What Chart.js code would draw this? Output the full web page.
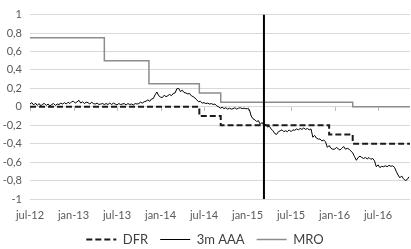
<!DOCTYPE html>
<html>
<head>
<meta charset="utf-8">
<script src="https://cdn.jsdelivr.net/npm/chart.js@4.4.0/dist/chart.umd.min.js"></script>
<style>
  html, body { margin: 0; padding: 0; background: #fff; }
</style>
</head>
<body>
<canvas id="rates" width="411" height="249"></canvas>
<script>
// ——— data (x = months since 1 jul 2012) ———
const xTickMonths = [0, 6, 12, 18, 24, 30, 36, 42, 48];
const xTickLabels = ['jul-12', 'jan-13', 'jul-13', 'jan-14', 'jul-14', 'jan-15', 'jul-15', 'jan-16', 'jul-16'];

// policy rates, value holds until the next change
const mroMonths = [0, 10.25, 16.4, 23.35, 26.3, 44.5, 52.4];
const mroRates  = [0.75, 0.5, 0.25, 0.15, 0.05, 0, 0];
const dfrMonths = [0, 23.35, 26.3, 41.25, 44.5, 52.4];
const dfrRates  = [0, -0.1, -0.2, -0.3, -0.4, -0.4];

// 3m AAA yield, roughly weekly (4 obs per month) from jul-12
const aaaStep = 0.25;
const aaaYield = [
  0.03, 0.045, 0.02, 0.04,   0.015, 0.035, 0.01, 0.03,   0.035, 0.015, 0.03, 0.01,
  0.025, 0.035, 0.015, 0.03, 0.025, 0.04, 0.03, 0.045,   0.03, 0.05, 0.035, 0.055,
  0.06, 0.04, 0.055, 0.07,   0.04, 0.055, 0.035, 0.05,   0.045, 0.03, 0.05, 0.035,
  0.03, 0.04, 0.025, 0.03,   0.035, 0.025, 0.035, 0.025, 0.04, 0.025, 0.04, 0.03,
  0.02, 0.035, 0.025, 0.03,  0.035, 0.02, 0.035, 0.025,  0.03, 0.02, 0.035, 0.03,
  0.035, 0.05, 0.04, 0.055,  0.06, 0.075, 0.06, 0.085,   0.09, 0.13, 0.16, 0.12,
  0.105, 0.10, 0.125, 0.11,  0.12, 0.135, 0.12, 0.145,   0.15, 0.195, 0.2, 0.165,
  0.18, 0.155, 0.15, 0.14,   0.145, 0.12, 0.11, 0.095,   0.075, 0.055, 0.06, 0.04,
  0.045, 0.035, 0.04, 0.03,  0.035, 0.025, 0.03, 0.01,   0.0, -0.015, -0.005, -0.02,
  -0.01, -0.025, -0.015, -0.025, -0.02, -0.01, -0.025, -0.015, -0.01, -0.02, -0.015, -0.02,
  -0.02, -0.03, -0.10, -0.13,  -0.14, -0.16, -0.15, -0.19,  -0.17, -0.20, -0.19, -0.22,
  -0.21, -0.24, -0.26, -0.29,  -0.30, -0.27, -0.26, -0.25,  -0.27, -0.26, -0.27, -0.25,
  -0.27, -0.25, -0.255, -0.24, -0.25, -0.235, -0.245, -0.23, -0.245, -0.235, -0.25, -0.24,
  -0.33, -0.31, -0.34, -0.35,  -0.35, -0.37, -0.36, -0.38,  -0.44, -0.42, -0.45, -0.46,
  -0.46, -0.44, -0.455, -0.47, -0.45, -0.43, -0.46, -0.45,  -0.46, -0.48, -0.50, -0.54,
  -0.58, -0.55, -0.535, -0.55, -0.56, -0.55, -0.565, -0.55, -0.57, -0.56, -0.585, -0.65,
  -0.63, -0.66, -0.645, -0.65, -0.64, -0.65, -0.635, -0.645, -0.64, -0.655, -0.70, -0.74,
  -0.77, -0.75, -0.78, -0.80,  -0.79, -0.76
];

const qeStartMonth = 32.26; // 9 mar 2015

const FONT = 'Lato, "Liberation Sans", sans-serif';

// small tick marks on the zero line, like excel's crossing axis
const zeroTicks = {
  id: 'zeroTicks',
  beforeDatasetsDraw(chart) {
    const { ctx, scales: { x, y } } = chart;
    const y0 = Math.round(y.getPixelForValue(0));
    ctx.save();
    ctx.strokeStyle = '#bfbfbf';
    ctx.lineWidth = 1;
    x.ticks.forEach(t => {
      const px = Math.round(x.getPixelForValue(t.value)) + 0.5;
      ctx.beginPath();
      ctx.moveTo(px, y0);
      ctx.lineTo(px, y0 + 4);
      ctx.stroke();
    });
    ctx.restore();
  }
};

const toXY = (xs, ys) => xs.map((m, i) => ({ x: m, y: ys[i] }));

new Chart(document.getElementById('rates'), {
  type: 'line',
  data: {
    datasets: [
      {
        label: '',
        data: [{ x: qeStartMonth, y: 1 }, { x: qeStartMonth, y: -1 }],
        borderColor: '#000',
        borderWidth: 2,
        pointRadius: 0
      },
      {
        label: 'DFR',
        data: toXY(dfrMonths, dfrRates),
        stepped: true,
        borderColor: '#1a1a1a',
        borderWidth: 2,
        borderDash: [6, 3],
        pointRadius: 0
      },
      {
        label: '3m AAA',
        data: aaaYield.map((v, i) => ({ x: i * aaaStep, y: v })),
        borderColor: '#000',
        borderWidth: 1,
        pointRadius: 0,
        tension: 0
      },
      {
        label: 'MRO',
        data: toXY(mroMonths, mroRates),
        stepped: true,
        borderColor: '#8c8c8c',
        borderWidth: 1.5,
        pointRadius: 0
      }
    ]
  },
  options: {
    responsive: false,
    animation: false,
    layout: { padding: { top: 13, right: 1, left: 0, bottom: -7 } },
    scales: {
      x: {
        type: 'linear',
        min: 0,
        max: 52.4,
        grid: { display: false, drawTicks: false },
        border: { display: false },
        afterBuildTicks: s => { s.ticks = xTickMonths.map(v => ({ value: v })); },
        afterFit: s => { s.height = 22; },
        ticks: {
          callback: (v, i) => xTickLabels[i],
          autoSkip: false,
          maxRotation: 0,
          padding: 10,
          color: '#595959',
          font: { family: FONT, size: 11 }
        }
      },
      y: {
        min: -1,
        max: 1,
        grid: { color: '#d9d9d9', drawTicks: false },
        border: { display: false },
        afterFit: s => { s.width = 30; },
        ticks: {
          stepSize: 0.2,
          padding: 8,
          color: '#595959',
          font: { family: FONT, size: 11 },
          callback: v => String(Math.round(v * 10) / 10).replace('.', ',')
        }
      }
    },
    plugins: {
      legend: {
        position: 'bottom',
        labels: {
          filter: item => item.text !== '',
          generateLabels: chart => {
            const items = Chart.defaults.plugins.legend.labels.generateLabels(chart);
            items.forEach(it => {
              const ds = chart.data.datasets[it.datasetIndex];
              it.lineDash = ds.borderDash || [];
              it.lineWidth = ds.borderWidth;
            });
            return items;
          },
          usePointStyle: true,
          pointStyle: 'line',
          pointStyleWidth: 30,
          padding: 12,
          color: '#404040',
          font: { family: FONT, size: 13 }
        }
      },
      tooltip: { enabled: false }
    }
  },
  plugins: [zeroTicks]
});
</script>
</body>
</html>
